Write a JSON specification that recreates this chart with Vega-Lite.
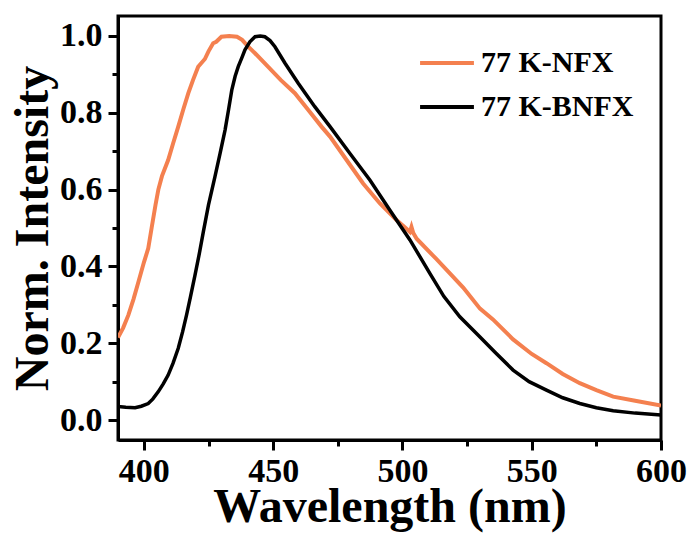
{
  "$schema": "https://vega.github.io/schema/vega-lite/v6.json",
  "width": 543,
  "height": 424,
  "autosize": {"type": "none"},
  "padding": {"left": 118, "top": 16, "right": 33, "bottom": 94},
  "background": "white",
  "config": {
    "view": {"stroke": "black", "strokeWidth": 3},
    "font": "Liberation Serif",
    "axis": {
      "grid": false,
      "domainColor": "black",
      "domainWidth": 3,
      "tickColor": "black",
      "tickWidth": 3,
      "labelColor": "black",
      "titleColor": "black",
      "labelFont": "Liberation Serif",
      "titleFont": "Liberation Serif",
      "labelFontWeight": "bold",
      "titleFontWeight": "bold"
    }
  },
  "datasets": {
    "spectra": [
      {"nm": 390, "v": 0.215, "s": "77 K-NFX"},
      {"nm": 392, "v": 0.24, "s": "77 K-NFX"},
      {"nm": 394, "v": 0.273, "s": "77 K-NFX"},
      {"nm": 396, "v": 0.315, "s": "77 K-NFX"},
      {"nm": 398, "v": 0.362, "s": "77 K-NFX"},
      {"nm": 400, "v": 0.41, "s": "77 K-NFX"},
      {"nm": 401.7, "v": 0.447, "s": "77 K-NFX"},
      {"nm": 403, "v": 0.5, "s": "77 K-NFX"},
      {"nm": 404.5, "v": 0.56, "s": "77 K-NFX"},
      {"nm": 405.6, "v": 0.6, "s": "77 K-NFX"},
      {"nm": 407, "v": 0.635, "s": "77 K-NFX"},
      {"nm": 409.4, "v": 0.677, "s": "77 K-NFX"},
      {"nm": 411.3, "v": 0.72, "s": "77 K-NFX"},
      {"nm": 413.3, "v": 0.764, "s": "77 K-NFX"},
      {"nm": 415.3, "v": 0.81, "s": "77 K-NFX"},
      {"nm": 417.2, "v": 0.851, "s": "77 K-NFX"},
      {"nm": 419, "v": 0.885, "s": "77 K-NFX"},
      {"nm": 421, "v": 0.92, "s": "77 K-NFX"},
      {"nm": 423.6, "v": 0.94, "s": "77 K-NFX"},
      {"nm": 425, "v": 0.96, "s": "77 K-NFX"},
      {"nm": 426.8, "v": 0.981, "s": "77 K-NFX"},
      {"nm": 428, "v": 0.985, "s": "77 K-NFX"},
      {"nm": 430, "v": 0.998, "s": "77 K-NFX"},
      {"nm": 433, "v": 1.0, "s": "77 K-NFX"},
      {"nm": 436, "v": 0.998, "s": "77 K-NFX"},
      {"nm": 438, "v": 0.99, "s": "77 K-NFX"},
      {"nm": 440, "v": 0.975, "s": "77 K-NFX"},
      {"nm": 443, "v": 0.955, "s": "77 K-NFX"},
      {"nm": 448, "v": 0.92, "s": "77 K-NFX"},
      {"nm": 453, "v": 0.885, "s": "77 K-NFX"},
      {"nm": 458.4, "v": 0.851, "s": "77 K-NFX"},
      {"nm": 463.6, "v": 0.807, "s": "77 K-NFX"},
      {"nm": 468.7, "v": 0.764, "s": "77 K-NFX"},
      {"nm": 472, "v": 0.738, "s": "77 K-NFX"},
      {"nm": 478.4, "v": 0.677, "s": "77 K-NFX"},
      {"nm": 484.8, "v": 0.616, "s": "77 K-NFX"},
      {"nm": 491.3, "v": 0.564, "s": "77 K-NFX"},
      {"nm": 497.7, "v": 0.521, "s": "77 K-NFX"},
      {"nm": 502.9, "v": 0.49, "s": "77 K-NFX"},
      {"nm": 503.5, "v": 0.503, "s": "77 K-NFX"},
      {"nm": 504.2, "v": 0.487, "s": "77 K-NFX"},
      {"nm": 505.5, "v": 0.472, "s": "77 K-NFX"},
      {"nm": 513, "v": 0.42, "s": "77 K-NFX"},
      {"nm": 523.5, "v": 0.345, "s": "77 K-NFX"},
      {"nm": 530, "v": 0.29, "s": "77 K-NFX"},
      {"nm": 535, "v": 0.262, "s": "77 K-NFX"},
      {"nm": 542.8, "v": 0.21, "s": "77 K-NFX"},
      {"nm": 550, "v": 0.172, "s": "77 K-NFX"},
      {"nm": 555.7, "v": 0.148, "s": "77 K-NFX"},
      {"nm": 562, "v": 0.12, "s": "77 K-NFX"},
      {"nm": 568.6, "v": 0.096, "s": "77 K-NFX"},
      {"nm": 575, "v": 0.078, "s": "77 K-NFX"},
      {"nm": 581.5, "v": 0.061, "s": "77 K-NFX"},
      {"nm": 590, "v": 0.05, "s": "77 K-NFX"},
      {"nm": 600, "v": 0.038, "s": "77 K-NFX"},
      {"nm": 390, "v": 0.035, "s": "77 K-BNFX"},
      {"nm": 393, "v": 0.033, "s": "77 K-BNFX"},
      {"nm": 396.6, "v": 0.032, "s": "77 K-BNFX"},
      {"nm": 399, "v": 0.036, "s": "77 K-BNFX"},
      {"nm": 401.7, "v": 0.043, "s": "77 K-BNFX"},
      {"nm": 403.5, "v": 0.055, "s": "77 K-BNFX"},
      {"nm": 405.6, "v": 0.074, "s": "77 K-BNFX"},
      {"nm": 407.5, "v": 0.094, "s": "77 K-BNFX"},
      {"nm": 409.4, "v": 0.117, "s": "77 K-BNFX"},
      {"nm": 411.3, "v": 0.148, "s": "77 K-BNFX"},
      {"nm": 413.3, "v": 0.187, "s": "77 K-BNFX"},
      {"nm": 415, "v": 0.23, "s": "77 K-BNFX"},
      {"nm": 416.5, "v": 0.273, "s": "77 K-BNFX"},
      {"nm": 418, "v": 0.32, "s": "77 K-BNFX"},
      {"nm": 419.8, "v": 0.378, "s": "77 K-BNFX"},
      {"nm": 421.5, "v": 0.435, "s": "77 K-BNFX"},
      {"nm": 423, "v": 0.49, "s": "77 K-BNFX"},
      {"nm": 425, "v": 0.56, "s": "77 K-BNFX"},
      {"nm": 427.5, "v": 0.634, "s": "77 K-BNFX"},
      {"nm": 429.5, "v": 0.695, "s": "77 K-BNFX"},
      {"nm": 431.4, "v": 0.755, "s": "77 K-BNFX"},
      {"nm": 432.8, "v": 0.81, "s": "77 K-BNFX"},
      {"nm": 434, "v": 0.859, "s": "77 K-BNFX"},
      {"nm": 435.3, "v": 0.895, "s": "77 K-BNFX"},
      {"nm": 436.5, "v": 0.92, "s": "77 K-BNFX"},
      {"nm": 438, "v": 0.945, "s": "77 K-BNFX"},
      {"nm": 439.1, "v": 0.964, "s": "77 K-BNFX"},
      {"nm": 441, "v": 0.985, "s": "77 K-BNFX"},
      {"nm": 443, "v": 0.998, "s": "77 K-BNFX"},
      {"nm": 445, "v": 1.0, "s": "77 K-BNFX"},
      {"nm": 446.8, "v": 0.998, "s": "77 K-BNFX"},
      {"nm": 448.8, "v": 0.988, "s": "77 K-BNFX"},
      {"nm": 450.7, "v": 0.972, "s": "77 K-BNFX"},
      {"nm": 454.6, "v": 0.929, "s": "77 K-BNFX"},
      {"nm": 459.7, "v": 0.877, "s": "77 K-BNFX"},
      {"nm": 466.1, "v": 0.816, "s": "77 K-BNFX"},
      {"nm": 472, "v": 0.764, "s": "77 K-BNFX"},
      {"nm": 479.7, "v": 0.694, "s": "77 K-BNFX"},
      {"nm": 487.4, "v": 0.625, "s": "77 K-BNFX"},
      {"nm": 495.1, "v": 0.547, "s": "77 K-BNFX"},
      {"nm": 502.9, "v": 0.469, "s": "77 K-BNFX"},
      {"nm": 510.6, "v": 0.382, "s": "77 K-BNFX"},
      {"nm": 516, "v": 0.322, "s": "77 K-BNFX"},
      {"nm": 522.2, "v": 0.269, "s": "77 K-BNFX"},
      {"nm": 529.9, "v": 0.217, "s": "77 K-BNFX"},
      {"nm": 536, "v": 0.175, "s": "77 K-BNFX"},
      {"nm": 542.8, "v": 0.13, "s": "77 K-BNFX"},
      {"nm": 549, "v": 0.1, "s": "77 K-BNFX"},
      {"nm": 555.7, "v": 0.078, "s": "77 K-BNFX"},
      {"nm": 562, "v": 0.058, "s": "77 K-BNFX"},
      {"nm": 568.6, "v": 0.043, "s": "77 K-BNFX"},
      {"nm": 575, "v": 0.032, "s": "77 K-BNFX"},
      {"nm": 581.5, "v": 0.024, "s": "77 K-BNFX"},
      {"nm": 590, "v": 0.018, "s": "77 K-BNFX"},
      {"nm": 600, "v": 0.013, "s": "77 K-BNFX"}
    ]
  },
  "data": {"name": "spectra"},
  "layer": [
    {
      "transform": [{"filter": "datum.s === '77 K-NFX'"}],
      "mark": {"type": "line", "strokeWidth": 4, "clip": true},
      "encoding": {
        "x": {
          "field": "nm", "type": "quantitative",
          "scale": {"domain": [390, 600], "nice": false, "zero": false},
          "axis": {
            "orient": "bottom",
            "title": "Wavelength (nm)",
            "values": [400, 450, 500, 550, 600],
            "tickSize": 10,
            "labelFontSize": 34,
            "labelPadding": 4,
            "titleFontSize": 48,
            "titlePadding": -5,
            "labelFlush": false
          }
        },
        "y": {
          "field": "v", "type": "quantitative",
          "scale": {"domain": [-0.052, 1.052], "nice": false, "zero": false},
          "axis": {
            "orient": "left",
            "title": "Norm. Intensity",
            "values": [0, 0.2, 0.4, 0.6, 0.8, 1.0],
            "format": ".1f",
            "tickSize": 10,
            "labelFontSize": 34,
            "labelPadding": 6,
            "titleFontSize": 48,
            "titlePadding": 2
          }
        },
        "color": {
          "field": "s", "type": "nominal",
          "scale": {"domain": ["77 K-NFX", "77 K-BNFX"], "range": ["#F4804F", "#000000"]},
          "legend": {
            "title": null,
            "orient": "none",
            "legendX": 300,
            "legendY": 18,
            "padding": 0,
            "symbolType": "stroke",
            "symbolSize": 2900,
            "symbolStrokeWidth": 4,
            "labelFontSize": 30,
            "labelFont": "Liberation Serif",
            "labelFontWeight": "bold",
            "labelColor": "black",
            "rowPadding": -21,
            "labelOffset": 5
          }
        }
      }
    },
    {
      "transform": [{"filter": "datum.s === '77 K-BNFX'"}],
      "mark": {"type": "line", "strokeWidth": 3.5, "clip": true},
      "encoding": {
        "x": {
          "field": "nm", "type": "quantitative",
          "axis": {
            "orient": "bottom",
            "title": null,
            "values": [425, 475, 525, 575],
            "tickSize": 6,
            "labels": false,
            "domain": false
          }
        },
        "y": {
          "field": "v", "type": "quantitative",
          "axis": {
            "orient": "left",
            "title": null,
            "values": [0.1, 0.3, 0.5, 0.7, 0.9],
            "tickSize": 6,
            "labels": false,
            "domain": false
          }
        },
        "color": {"field": "s", "type": "nominal"}
      }
    }
  ],
  "resolve": {"axis": {"x": "independent", "y": "independent"}}
}
